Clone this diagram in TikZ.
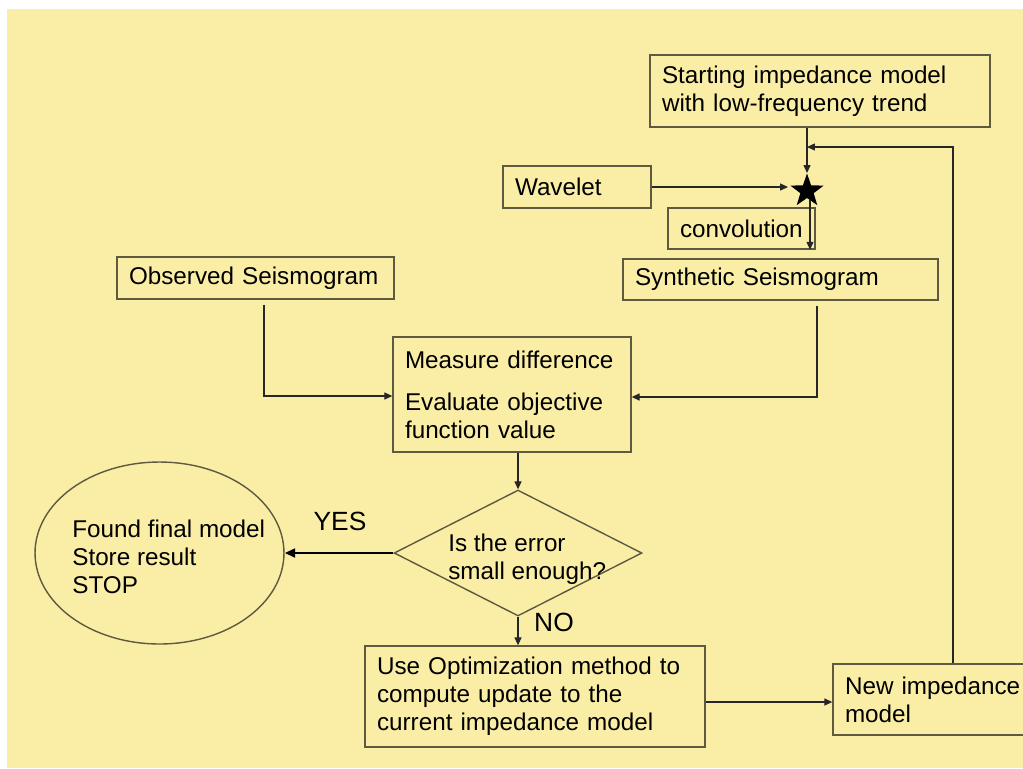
\documentclass[tikz,border=0pt]{standalone}
\usepackage{fontspec}
\setmainfont{Liberation Sans}
\usetikzlibrary{shapes.geometric,arrows.meta,calc}
\definecolor{bg}{HTML}{FAEEA6}
\definecolor{edge}{HTML}{5E5A40}
\begin{document}
\begin{tikzpicture}[x=0.02cm,y=-0.02cm, font=\fontsize{13.8pt}{15.9pt}\selectfont,
 box/.style={draw=edge, line width=0.8pt, rectangle, inner xsep=0.24cm, inner ysep=0pt, align=left},
 txt/.style={inner sep=0pt, align=left, anchor=west},
 lbl/.style={font=\fontsize{15pt}{17pt}\selectfont},
 arr/.style={draw=black!85, line width=0.6pt, -{Triangle[length=4.5pt,width=4pt]}},
 outl/.style={draw=edge, line width=0.8pt, inner sep=0pt}]
\useasboundingbox (0,0) rectangle (1023,768);
\fill[white] (0,0) rectangle (1023,768);
\fill[bg] (7,9) rectangle (1023,768);

\node[box, text width=6.32cm, minimum height=1.44cm] (start) at (820,91) {Starting impedance model\\with low-frequency trend};
\node[box, text width=2.48cm, minimum height=0.84cm] (wave) at (577,187) {Wavelet};
\node[box, text width=2.46cm, minimum height=0.82cm] (conv) at (741.5,228.5) {convolution};
\node[box, text width=5.82cm, minimum height=0.82cm] (synth) at (780.5,279.5) {Synthetic Seismogram};
\node[box, text width=5.06cm, minimum height=0.84cm] (obs) at (255.5,278) {Observed Seismogram};
\node[box, text width=4.28cm, minimum height=2.3cm] (meas) at (512,394.5) {Measure difference\\[0.28cm]Evaluate objective\\function value\\[0.08cm]};
\node[box, text width=6.32cm, minimum height=2.02cm] (opt) at (535,696.5) {Use Optimization method to\\compute update to the\\current impedance model};
\node[box, text width=3.76cm, minimum height=1.42cm] (newimp) at (939,699.5) {New impedance\\model};
\node[outl, diamond, minimum width=4.96cm, minimum height=2.52cm] (dia) at (518,553) {};
\node[txt] (diat) at (448,559) {Is the error\\small enough?};
\node[outl, ellipse, minimum width=4.98cm, minimum height=3.64cm] (stop) at (159.5,553) {};
\node[txt] (stopt) at (72,557) {Found final model\\Store result\\STOP};
\node[star, star points=5, star point ratio=2.5, fill=black, minimum size=0.7cm, inner sep=0pt] (star) at (807,191) {};
\node[lbl] (yes) at (340,521) {YES};
\node[lbl] (no) at (554,622) {NO};

\coordinate (tipw) at (788,187);
\coordinate (cx) at (810,0);
\coordinate (fb) at (953,147);
\coordinate (ob) at (264,396);
\coordinate (sy) at (817,397);
\coordinate (on) at (0,702);

\draw[arr] (start.south -| star) -- ($(star.center)+(0,-18)$);
\draw[arr] (wave.east |- tipw) -- (tipw);
\draw[arr] ($(star.center |- star.south)+(3,2)$) -- (conv.south -| cx);
\draw[arr] (newimp.north -| fb) -- (fb) -- (fb -| star);
\draw[arr] ($(obs.south -| ob)+(0,5)$) -- (ob) -- (ob -| meas.west);
\draw[arr] ($(synth.south -| sy)+(0,5)$) -- (sy) -- (sy -| meas.east);
\draw[arr] (meas.south -| dia.north) -- (dia.north);
\draw[line width=1.6pt, -{Triangle[length=6pt,width=5pt]}] (dia.west) -- (stop.east);
\draw[arr] (dia.south) -- (opt.north -| dia.south);
\draw[arr] (opt.east |- on) -- (newimp.west |- on);
\end{tikzpicture}
\end{document}
